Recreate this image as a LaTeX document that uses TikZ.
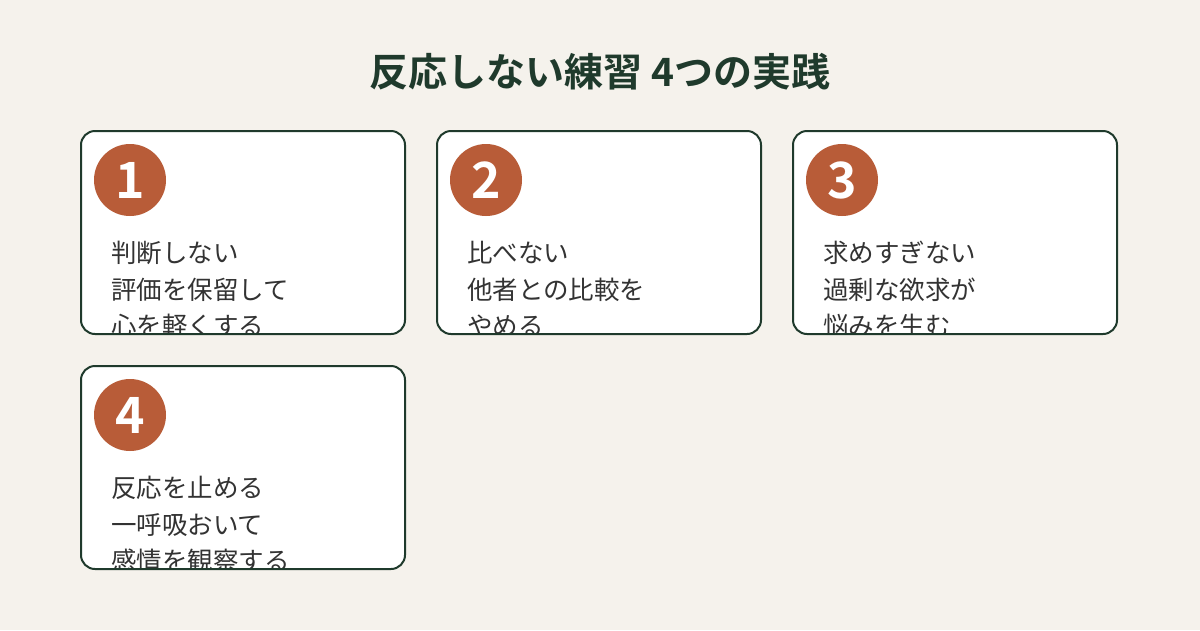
\documentclass[tikz,border=0pt]{standalone}
\usepackage{fontspec}
\setmainfont{Noto Sans CJK JP}
\newfontfamily\boldjp{Noto Sans CJK JP Bold}
\definecolor{paper}{HTML}{F5F2EC}
\definecolor{pine}{HTML}{1F3A2C}
\definecolor{rust}{HTML}{B85C38}
\definecolor{ink}{HTML}{333333}
\usetikzlibrary{positioning}

\begin{document}
\begin{tikzpicture}[%
		x=1pt,y=-1pt,
		card/.style={draw=pine,line width=2pt,rounded corners=14pt},%
		badge/.style={circle,fill=rust,minimum size=72pt,inner sep=0pt,%
			text=white,font=\boldjp\fontsize{50}{50}\selectfont},%
		body/.style={anchor=west,text=ink,inner sep=0pt,%
			font=\fontsize{25.5}{25.5}\selectfont}
		]
		% page
		\fill[paper] (0,0) rectangle (1200,630);
		\useasboundingbox (0,0) rectangle (1200,630);
		% title
		\node[text=pine,font=\boldjp\fontsize{39}{39}\selectfont] (title) at (600,72)
			{反応しない練習 4つの実践};
		% cards
		\foreach \n/\x/\y/\la/\lb/\lc in {%
			1/81/131/判断しない/評価を保留して/心を軽くする,
			2/437/131/比べない/他者との比較を/やめる,
			3/793/131/求めすぎない/過剰な欲求が/悩みを生む,
			4/81/366/反応を止める/一呼吸おいて/感情を観察する}{
			\fill[white,rounded corners=14pt] (\x,\y) rectangle +(324,203);
			\begin{scope}
				\clip[rounded corners=14pt] (\x,\y) rectangle +(324,203);
				\node[badge] (badge\n) at (\x+49,\y+49) {\n};
				\node[body] (line\n a) at (\x+30,\y+122) {\la};
				\node[body] (line\n b) at (\x+30,\y+159) {\lb};
				\node[body] (line\n c) at (\x+30,\y+195) {\lc};
			\end{scope}
			\draw[card] (\x,\y) rectangle +(324,203);
		}
	\end{tikzpicture}
\end{document}
